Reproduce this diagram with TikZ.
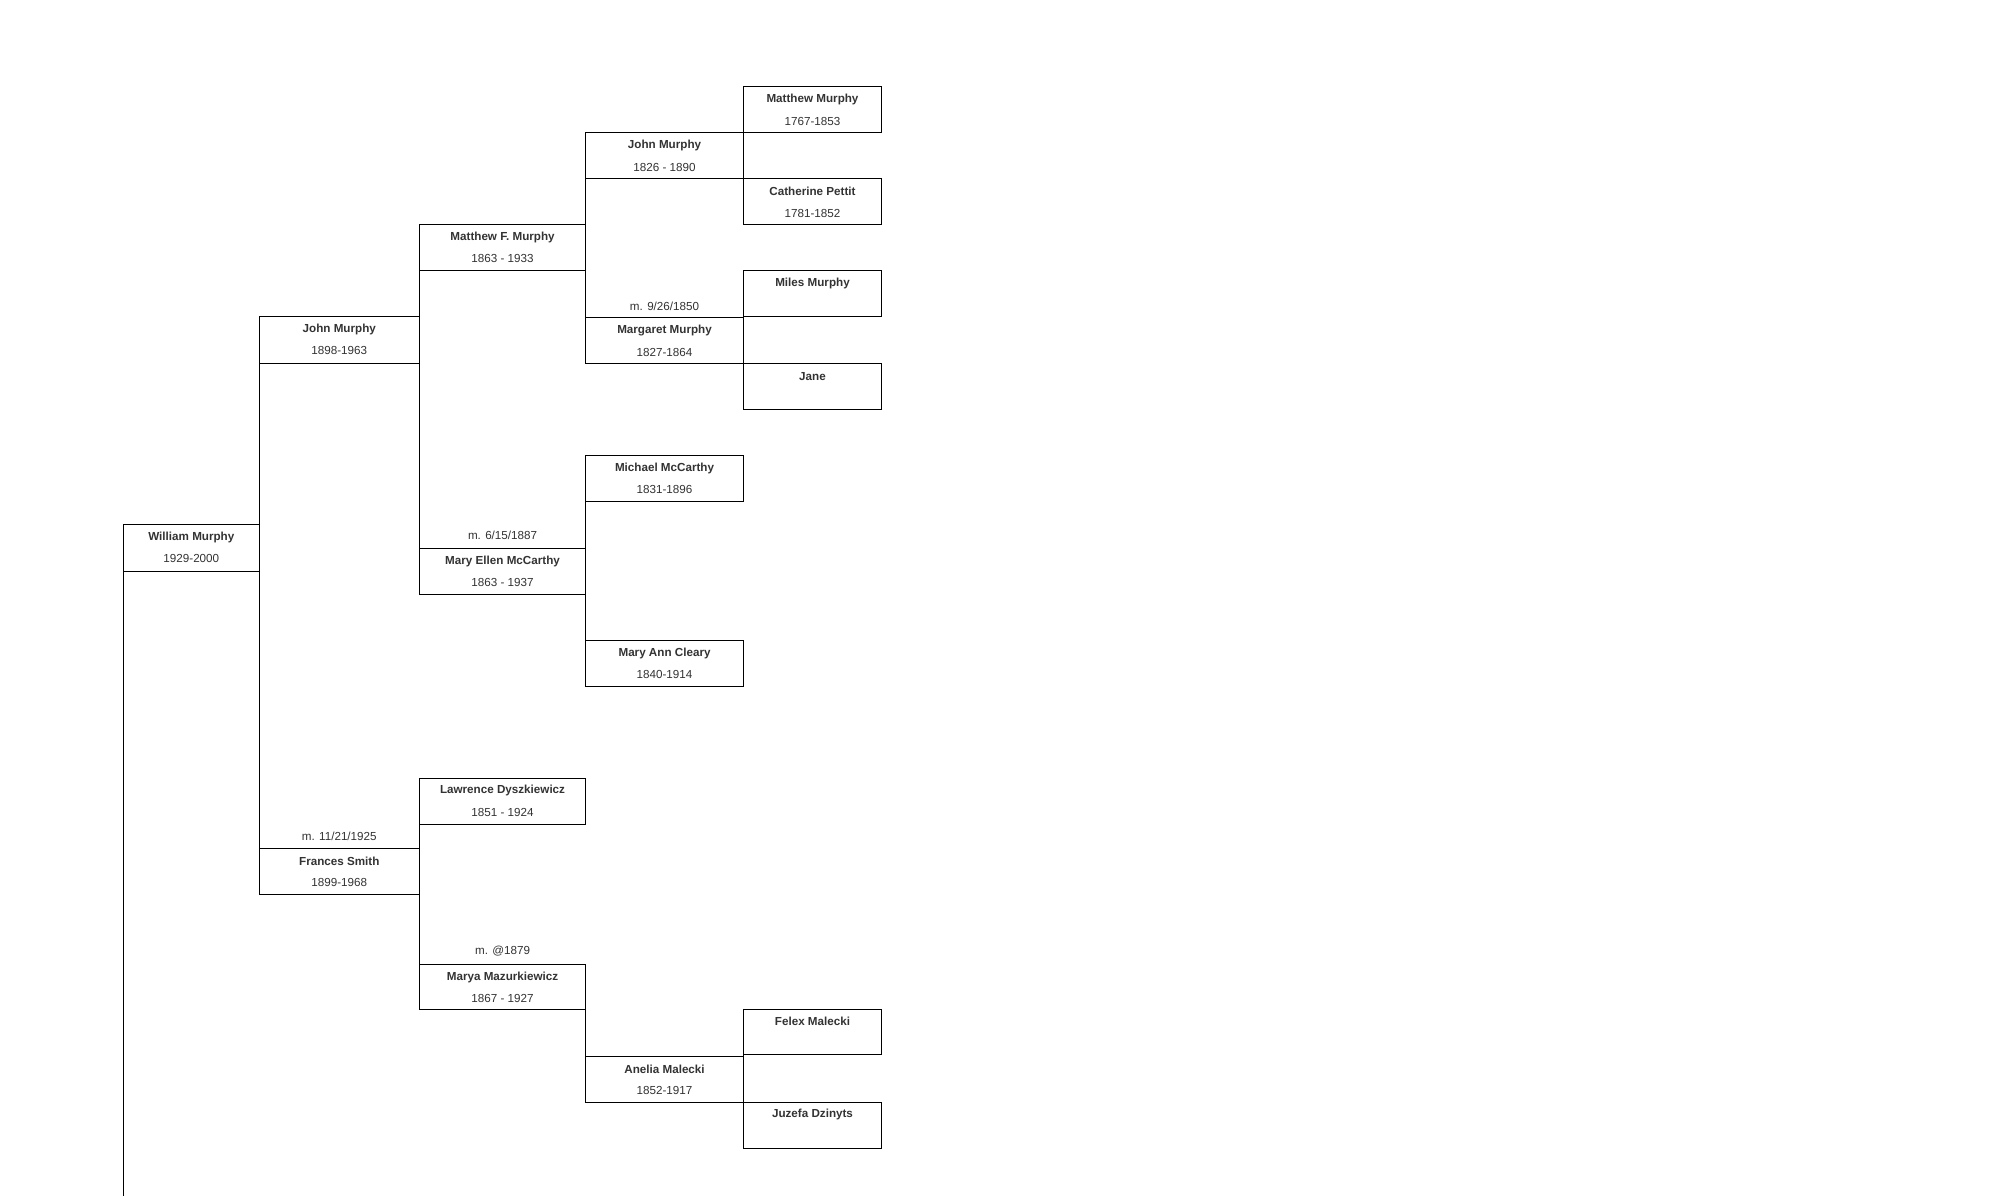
\documentclass[tikz,border=0pt]{standalone}
\usepackage{fontspec}
\setmainfont{Liberation Sans}
\begin{document}
\begin{tikzpicture}[x=0.05cm,y=-0.05cm,
  pbox/.style={draw,line width=0.9pt,anchor=north west,inner sep=0pt,outer sep=0pt},
  nm/.style={font=\fontsize{13}{15}\selectfont\bfseries,text=black!80,anchor=center},
  dt/.style={font=\fontsize{13}{15}\selectfont,text=black!80,anchor=center},
  conn/.style={line width=0.9pt}]
\fill[white] (0,0) rectangle (1568,938);
\useasboundingbox (0,0) rectangle (1568,938);
% boxes: name, x, y, w, h
\newcommand{\pb}[7]{%
  \node[pbox,minimum width=#4*0.05cm,minimum height=#5*0.05cm] (#1) at (#2,#3) {};
  \node[nm] at ([yshift=-0.5cm]#1.north) {#6};
  \node[dt] at ([yshift=-1.35cm]#1.north) {#7};}
\pb{wm}{97}{411}{106}{37}{William Murphy}{1929-2000}
\pb{jm}{203}{248}{126}{37}{John Murphy}{1898-1963}
\pb{fs}{203}{665}{126}{36}{Frances Smith}{1899-1968}
\pb{mfm}{329}{176}{130}{36}{Matthew F. Murphy}{1863 - 1933}
\pb{mem}{329}{430}{130}{36}{Mary Ellen McCarthy}{1863 - 1937}
\pb{jm2}{459}{104}{124}{36}{John Murphy}{1826 - 1890}
\pb{mm}{459}{249}{124}{36}{Margaret Murphy}{1827-1864}
\pb{mtm}{583}{68}{108}{36}{Matthew Murphy}{1767-1853}
\pb{cp}{583}{140}{108}{36}{Catherine Pettit}{1781-1852}
\pb{mil}{583}{212}{108}{36}{Miles Murphy}{}
\pb{jane}{583}{285}{108}{36}{Jane}{}
\pb{mmc}{459}{357}{124}{36}{Michael McCarthy}{1831-1896}
\pb{mac}{459}{502}{124}{36}{Mary Ann Cleary}{1840-1914}
\pb{ld}{329}{610}{130}{36}{Lawrence Dyszkiewicz}{1851 - 1924}
\pb{mz}{329}{756}{130}{35}{Marya Mazurkiewicz}{1867 - 1927}
\pb{am}{459}{828}{124}{36}{Anelia Malecki}{1852-1917}
\pb{fm}{583}{791}{108}{36}{Felex Malecki}{}
\pb{jd}{583}{864}{108}{36}{Juzefa Dzinyts}{}
% marriage labels
\node[dt] at ([yshift=0.45cm]fs.north) {m. 11/21/1925};
\node[dt] at ([yshift=0.5cm]mem.north) {m. 6/15/1887};
\node[dt] at ([yshift=0.45cm]mm.north) {m. 9/26/1850};
\node[dt] at ([yshift=0.5cm]mz.north) {m. @1879};
% connectors
\coordinate (bot) at (97,938);
\draw[conn] (wm.south west) -- (bot);
\draw[conn] (jm.north west) -- (fs.south west);
\draw[conn] (mfm.north west) -- (mem.south west);
\draw[conn] (jm2.north west) -- (mm.south west);
\draw[conn] (mtm.north west) -- (cp.south west);
\draw[conn] (mil.north west) -- (jane.south west);
\draw[conn] (mmc.north west) -- (mac.south west);
\draw[conn] (ld.north west) -- (mz.south west);
\draw[conn] (mz.south east) -- (am.south west);
\draw[conn] (fm.north west) -- (jd.south west);
\end{tikzpicture}
\end{document}
